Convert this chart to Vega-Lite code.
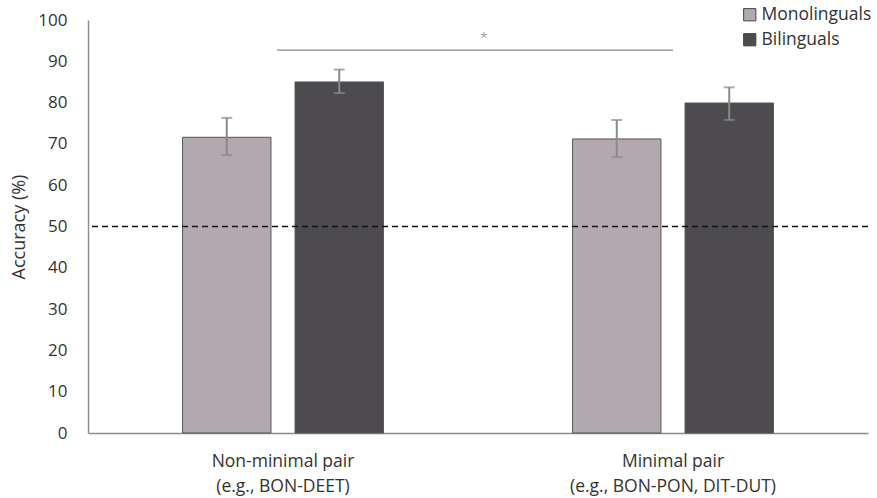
{
  "$schema": "https://vega.github.io/schema/vega-lite/v6.json",
  "width": 780,
  "height": 413,
  "autosize": "none",
  "padding": {"left": 88, "top": 20, "right": 9, "bottom": 65},
  "config": {"view": {"stroke": null}, "font": "Open Sans"},
  "datasets": {
    "bars": [
      {"condition": "Non-minimal pair|(e.g., BON-DEET)", "group": "Monolinguals", "accuracy": 71.6, "lo": 67.3, "hi": 76.3},
      {"condition": "Non-minimal pair|(e.g., BON-DEET)", "group": "Bilinguals", "accuracy": 85.0, "lo": 82.3, "hi": 88.0},
      {"condition": "Minimal pair|(e.g., BON-PON, DIT-DUT)", "group": "Monolinguals", "accuracy": 71.2, "lo": 66.8, "hi": 75.8},
      {"condition": "Minimal pair|(e.g., BON-PON, DIT-DUT)", "group": "Bilinguals", "accuracy": 79.9, "lo": 75.8, "hi": 83.7}
    ],
    "sig": [
      {"from": "Non-minimal pair|(e.g., BON-DEET)", "to": "Minimal pair|(e.g., BON-PON, DIT-DUT)", "y": 92.7, "ystar": 95.6, "label": "*"}
    ]
  },
  "layer": [
    {
      "data": {"name": "bars"},
      "mark": {"type": "bar", "stroke": "#555555", "strokeWidth": 1},
      "encoding": {
        "x": {
          "field": "condition", "type": "nominal", "sort": null,
          "scale": {"paddingInner": 0.485, "paddingOuter": 0.2425},
          "axis": {
            "title": null, "labelAngle": 0, "ticks": false, "domainColor": "#8c8c8c", "domainWidth": 1.5,
            "labelExpr": "split(datum.label, '|')", "labelFontSize": 17.5, "labelColor": "#333333",
            "labelPadding": 19, "labelLineHeight": 25, "labelLimit": 0
          }
        },
        "xOffset": {"field": "group", "type": "nominal", "sort": ["Monolinguals", "Bilinguals"], "scale": {"paddingInner": 0.214, "paddingOuter": 0}},
        "y": {
          "field": "accuracy", "type": "quantitative",
          "scale": {"domain": [0, 100], "nice": false},
          "axis": {
            "title": "Accuracy (%)", "titleFontSize": 18, "titleFontWeight": "normal", "titleColor": "#333333", "titlePadding": 9,
            "values": [0, 10, 20, 30, 40, 50, 60, 70, 80, 90, 100],
            "grid": false, "ticks": false, "domainColor": "#8c8c8c", "domainWidth": 1.5,
            "labelFontSize": 17, "labelColor": "#333333", "labelPadding": 21
          }
        },
        "color": {
          "field": "group", "type": "nominal",
          "scale": {"domain": ["Monolinguals", "Bilinguals"], "range": ["#b2a8b0", "#4d4a50"]},
          "legend": {
            "title": null, "orient": "none", "legendX": 653, "legendY": -14,
            "symbolType": "square", "symbolSize": 150, "symbolStrokeColor": "#444444", "symbolStrokeWidth": 1,
            "labelFontSize": 17.5, "labelColor": "#333333", "rowPadding": 6, "labelOffset": 3
          }
        }
      }
    },
    {
      "data": {"name": "bars"},
      "mark": {"type": "rule", "color": "#8a8a8a", "strokeWidth": 2},
      "encoding": {
        "x": {"field": "condition", "type": "nominal", "sort": null},
        "xOffset": {"field": "group", "type": "nominal", "sort": ["Monolinguals", "Bilinguals"]},
        "y": {"field": "lo", "type": "quantitative"},
        "y2": {"field": "hi"}
      }
    },
    {
      "data": {"name": "bars"},
      "mark": {"type": "tick", "color": "#8a8a8a", "thickness": 2, "size": 11},
      "encoding": {
        "x": {"field": "condition", "type": "nominal", "sort": null},
        "xOffset": {"field": "group", "type": "nominal", "sort": ["Monolinguals", "Bilinguals"]},
        "y": {"field": "lo", "type": "quantitative"}
      }
    },
    {
      "data": {"name": "bars"},
      "mark": {"type": "tick", "color": "#8a8a8a", "thickness": 2, "size": 11},
      "encoding": {
        "x": {"field": "condition", "type": "nominal", "sort": null},
        "xOffset": {"field": "group", "type": "nominal", "sort": ["Monolinguals", "Bilinguals"]},
        "y": {"field": "hi", "type": "quantitative"}
      }
    },
    {
      "data": {"values": [{"chance": 50}]},
      "mark": {"type": "rule", "color": "#111111", "strokeWidth": 1.6, "strokeDash": [6, 4]},
      "encoding": {"y": {"field": "chance", "type": "quantitative"}}
    },
    {
      "data": {"name": "sig"},
      "mark": {"type": "rule", "color": "#8a8a8a", "strokeWidth": 1.2},
      "encoding": {
        "x": {"field": "from", "type": "nominal", "sort": null, "bandPosition": 0.47},
        "x2": {"field": "to"},
        "y": {"field": "y", "type": "quantitative"}
      }
    },
    {
      "data": {"name": "sig"},
      "mark": {"type": "text", "color": "#999999", "fontSize": 13, "baseline": "middle"},
      "encoding": {
        "x": {"field": "from", "type": "nominal", "sort": null, "bandPosition": 1.5},
        "y": {"field": "ystar", "type": "quantitative"},
        "text": {"field": "label"}
      }
    }
  ]
}
